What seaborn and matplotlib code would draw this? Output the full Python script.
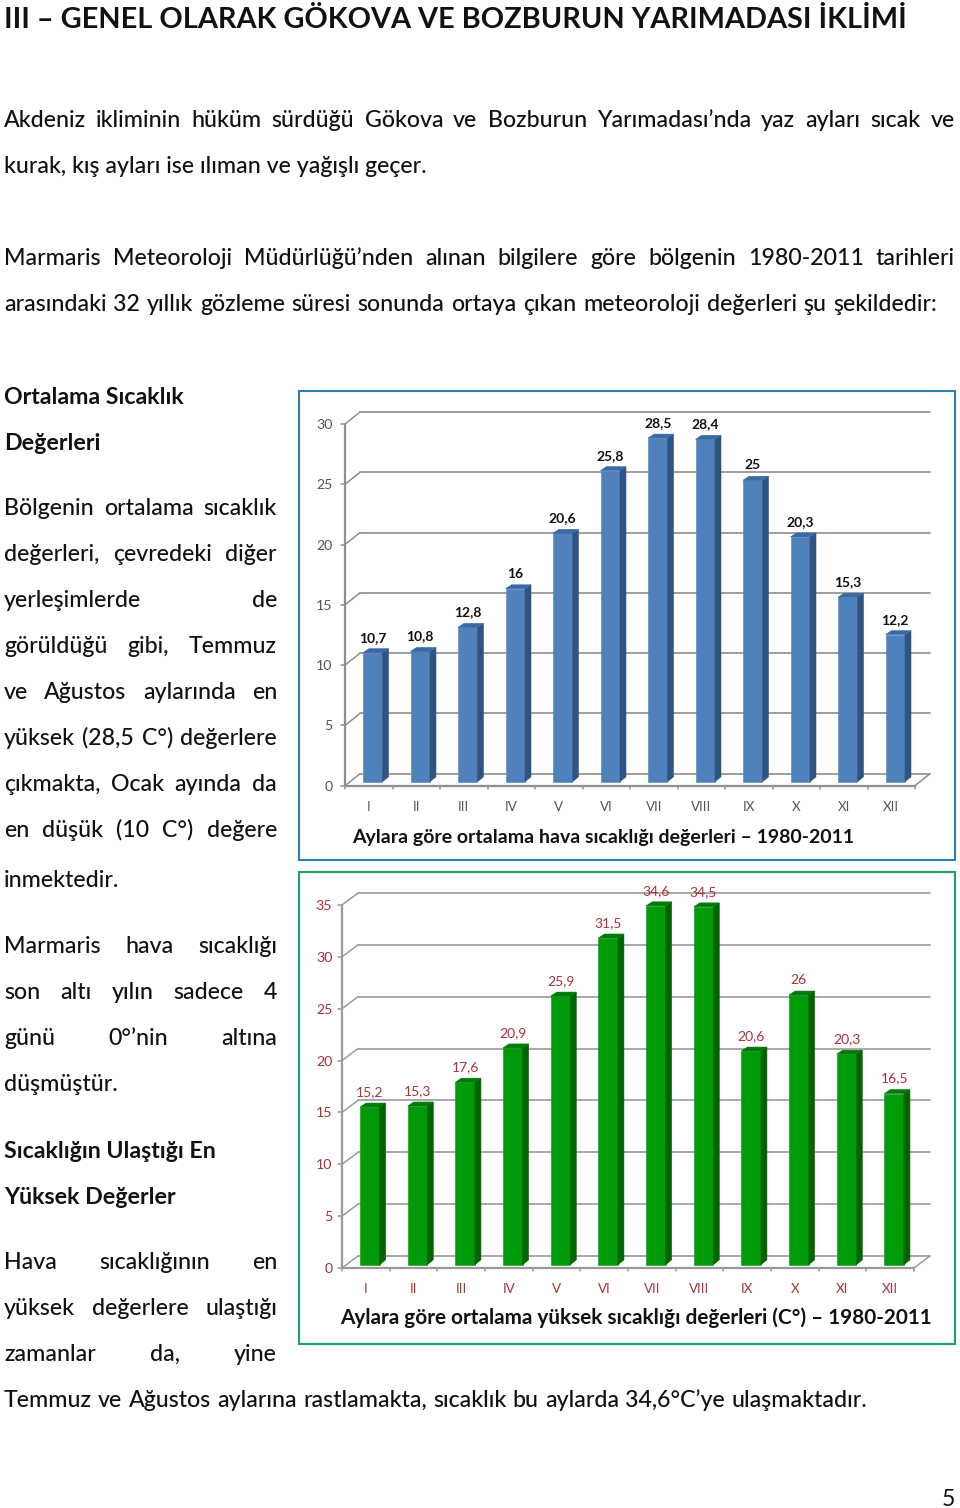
#!/usr/bin/env python3
import pandas as pd
import matplotlib
matplotlib.use("Agg")
import matplotlib.pyplot as plt
from matplotlib.patches import Polygon, Rectangle
import seaborn as sns

W, H = 960, 1508

months = ['I', 'II', 'III', 'IV', 'V', 'VI', 'VII', 'VIII', 'IX', 'X', 'XI', 'XII']
mean_temp = [10.7, 10.8, 12.8, 16, 20.6, 25.8, 28.5, 28.4, 25, 20.3, 15.3, 12.2]
high_temp = [15.2, 15.3, 17.6, 20.9, 25.9, 31.5, 34.6, 34.5, 20.6, 26, 20.3, 16.5]
mean_ticks = [0, 5, 10, 15, 20, 25, 30]
high_ticks = [0, 5, 10, 15, 20, 25, 30, 35]
mean_title = 'Aylara göre ortalama hava sıcaklığı değerleri – 1980-2011'
high_title = 'Aylara göre ortalama yüksek sıcaklığı değerleri (C°) – 1980-2011'

# (text, baseline y, right edge for justified lines or None)
body_lines = [
    ('Akdeniz ikliminin hüküm sürdüğü Gökova ve Bozburun Yarımadası’nda yaz ayları sıcak ve', 127, 955),
    ('kurak, kış ayları ise ılıman ve yağışlı geçer.', 173, None),
    ('Marmaris Meteoroloji Müdürlüğü’nden alınan bilgilere göre bölgenin 1980-2011 tarihleri', 265, 955),
    ('arasındaki 32 yıllık gözleme süresi sonunda ortaya çıkan meteoroloji değerleri şu şekildedir:', 311, 937),
    ('Bölgenin ortalama sıcaklık', 515, 277),
    ('değerleri, çevredeki diğer', 561, 277),
    ('yerleşimlerde de', 607, 277),
    ('görüldüğü gibi, Temmuz', 653, 277),
    ('ve Ağustos aylarında en', 699, 277),
    ('yüksek (28,5 C°) değerlere', 745, 277),
    ('çıkmakta, Ocak ayında da', 791, 277),
    ('en düşük (10 C°) değere', 837, 277),
    ('inmektedir.', 887, None),
    ('Marmaris hava sıcaklığı', 953, 277),
    ('son altı yılın sadece 4', 999, 277),
    ('günü 0°’nin altına', 1045, 277),
    ('düşmüştür.', 1091, None),
    ('Hava sıcaklığının en', 1269, 277),
    ('yüksek değerlere ulaştığı', 1315, 277),
    ('zamanlar da, yine', 1361, 277),
    ('Temmuz ve Ağustos aylarına rastlamakta, sıcaklık bu aylarda 34,6°C’ye ulaşmaktadır.', 1407, 867),
]
bold_lines = [
    ('Ortalama Sıcaklık', 404),
    ('Değerleri', 450),
    ('Sıcaklığın Ulaştığı En', 1158),
    ('Yüksek Değerler', 1204),
]
heading = 'III – GENEL OLARAK GÖKOVA VE BOZBURUN YARIMADASI İKLİMİ'

BODY = 16.7

sns.set_theme(style="white")
plt.rcParams['font.family'] = ['Lato', 'Noto Sans', 'DejaVu Sans']

fig = plt.figure(figsize=(W / 100, H / 100), dpi=100, facecolor='white')


def px_axes(left, top, right, bottom):
    return fig.add_axes([left / W, 1 - bottom / H, (right - left) / W, (bottom - top) / H])


def page_text(x, y, s, **kw):
    return fig.text(x / W, 1 - y / H, s, va='baseline', ha=kw.pop('ha', 'left'), color=kw.pop('color', '#111111'), **kw)


def justified(s, y, x1, x0=4):
    # spread the words out to the right edge, like the page does
    words = s.split(' ')
    renderer = fig.canvas.get_renderer()
    items = [page_text(x0, y, w, fontsize=BODY, fontweight='medium') for w in words]
    widths = [t.get_window_extent(renderer).width for t in items]
    gap = (x1 - x0 - sum(widths)) / max(len(words) - 1, 1)
    x = x0
    for t, w in zip(items, widths):
        t.set_x(x / W)
        x += w + gap


def chart_3d(vals, ticks, box, bar_off, wall, colors, tick_col, lab_col, lab_weight, ypad, frame, fr_col, title, title_x, title_y, title_size):
    face, side, top, line = colors
    left, ytop, right, ybot = box
    ymax = ticks[-1]
    ax = px_axes(left, ytop, right, ybot)
    df = pd.DataFrame({'month': months, 'value': vals})
    sns.barplot(data=df, x='month', y='value', color=face, saturation=1, width=0.41, ax=ax, zorder=3,
                edgecolor=face, linewidth=0.4)
    ax.set_xlim(-0.5, 11.5)
    ax.set_ylim(0, ymax)
    ax.patch.set_alpha(0)
    sx = (right - left) / 12
    sy = (ybot - ytop) / ymax
    ax.set_xlabel('')
    ax.set_ylabel('')
    for s in ['top', 'right', 'bottom', 'left']:
        ax.spines[s].set_visible(False)

    # back wall gridlines + the slanted bit to the front axis
    wx, wy = wall[0] / sx, wall[1] / sy
    for t in ticks:
        ax.plot([-0.5 + wx, 11.5 + wx], [t + wy, t + wy], color=line, lw=1.2, zorder=1, clip_on=False)
        ax.plot([-0.5, -0.5 + wx], [t, t + wy], color=line, lw=1.1, zorder=1, clip_on=False)
    ax.plot([11.5, 11.5 + wx], [0, wy], color=line, lw=1.1, zorder=1, clip_on=False)
    ax.plot([-0.5, -0.5], [0, ymax], color=line, lw=1.6, zorder=2, clip_on=False)
    ax.plot([-0.5, 11.5], [0, 0], color=line, lw=1.6, zorder=2, clip_on=False)

    ax.set_yticks(ticks)
    ax.set_yticklabels([str(t) for t in ticks], color=tick_col, fontsize=10.2)
    ax.set_xticks(range(12))
    ax.set_xticklabels(months, color=tick_col, fontsize=9.6)
    ax.tick_params(axis='x', length=0, pad=11)
    ax.tick_params(axis='y', length=0, pad=ypad)
    for i in range(13):
        ax.plot([i - 0.5, i - 0.5], [0, -3 / sy], color=line, lw=1.1, clip_on=False, zorder=2)
    for t in ticks:
        ax.plot([-0.5, -0.5 - 4 / sx], [t, t], color=line, lw=1.1, clip_on=False, zorder=2)

    # bars are moved off the front plane and given their 3d faces
    dx, dy = bar_off[0] / sx, bar_off[1] / sy
    ddx, ddy = 6 / sx, 4 / sy
    for bar, v in zip(ax.patches[:12], vals):
        bar.set_x(bar.get_x() + dx)
        bar.set_y(dy)
        bar.set_clip_on(False)
        x0, x1 = bar.get_x(), bar.get_x() + bar.get_width()
        y0, y1 = dy, dy + v
        ax.add_patch(Polygon([(x1, y0), (x1 + ddx, y0 + ddy * 1.2), (x1 + ddx, y1 + ddy), (x1, y1)],
                             facecolor=side, edgecolor=side, lw=0.4, zorder=3, clip_on=False))
        ax.add_patch(Polygon([(x0, y1), (x0 + ddx, y1 + ddy), (x1 + ddx, y1 + ddy), (x1, y1)],
                             facecolor=top, edgecolor=top, lw=0.4, zorder=3, clip_on=False))
        ax.text((x0 + x1) / 2, y1 + 9 / sy, f'{v:g}'.replace('.', ','), ha='center', va='bottom',
                color=lab_col, fontsize=10, fontweight=lab_weight, clip_on=False)

    fl, ft, fr, fb = frame
    fig.add_artist(Rectangle((fl / W, 1 - fb / H), (fr - fl) / W, (fb - ft) / H, transform=fig.transFigure,
                             facecolor='none', edgecolor=fr_col, lw=1.5))
    page_text(title_x, title_y, title, fontsize=title_size, fontweight='bold', color='#111111')


chart_3d(mean_temp, mean_ticks, (345, 424, 915, 785.7), (4, 4), (15, 12),
         ('#4f81bd', '#2f5481', '#3a6aa3', '#8e8e8e'), '#555555', '#111111', 'bold', 9,
         (298.5, 390.5, 955, 860.5), '#2e7fb2', mean_title, 352, 842.5, 14.0)
chart_3d(high_temp, high_ticks, (342, 905, 914, 1268), (4, 3.3), (16, 12),
         ('#009a0a', '#006400', '#007a08', '#9a9a9a'), '#a8323c', '#a8323c', 'normal', 7,
         (298.5, 872, 955, 1344), '#1fa065', high_title, 340, 1324, 14.95)

page_text(4, 28, heading, fontsize=20.8, fontweight='bold')
for s, y, x1 in body_lines:
    if x1 is None:
        page_text(4, y, s, fontsize=BODY, fontweight='medium')
    else:
        justified(s, y, x1)
for s, y in bold_lines:
    page_text(4, y, s, fontsize=16.7, fontweight='bold')
page_text(955, 1506, '5', fontsize=BODY, ha='right')

fig.savefig('out.png', dpi=100)
